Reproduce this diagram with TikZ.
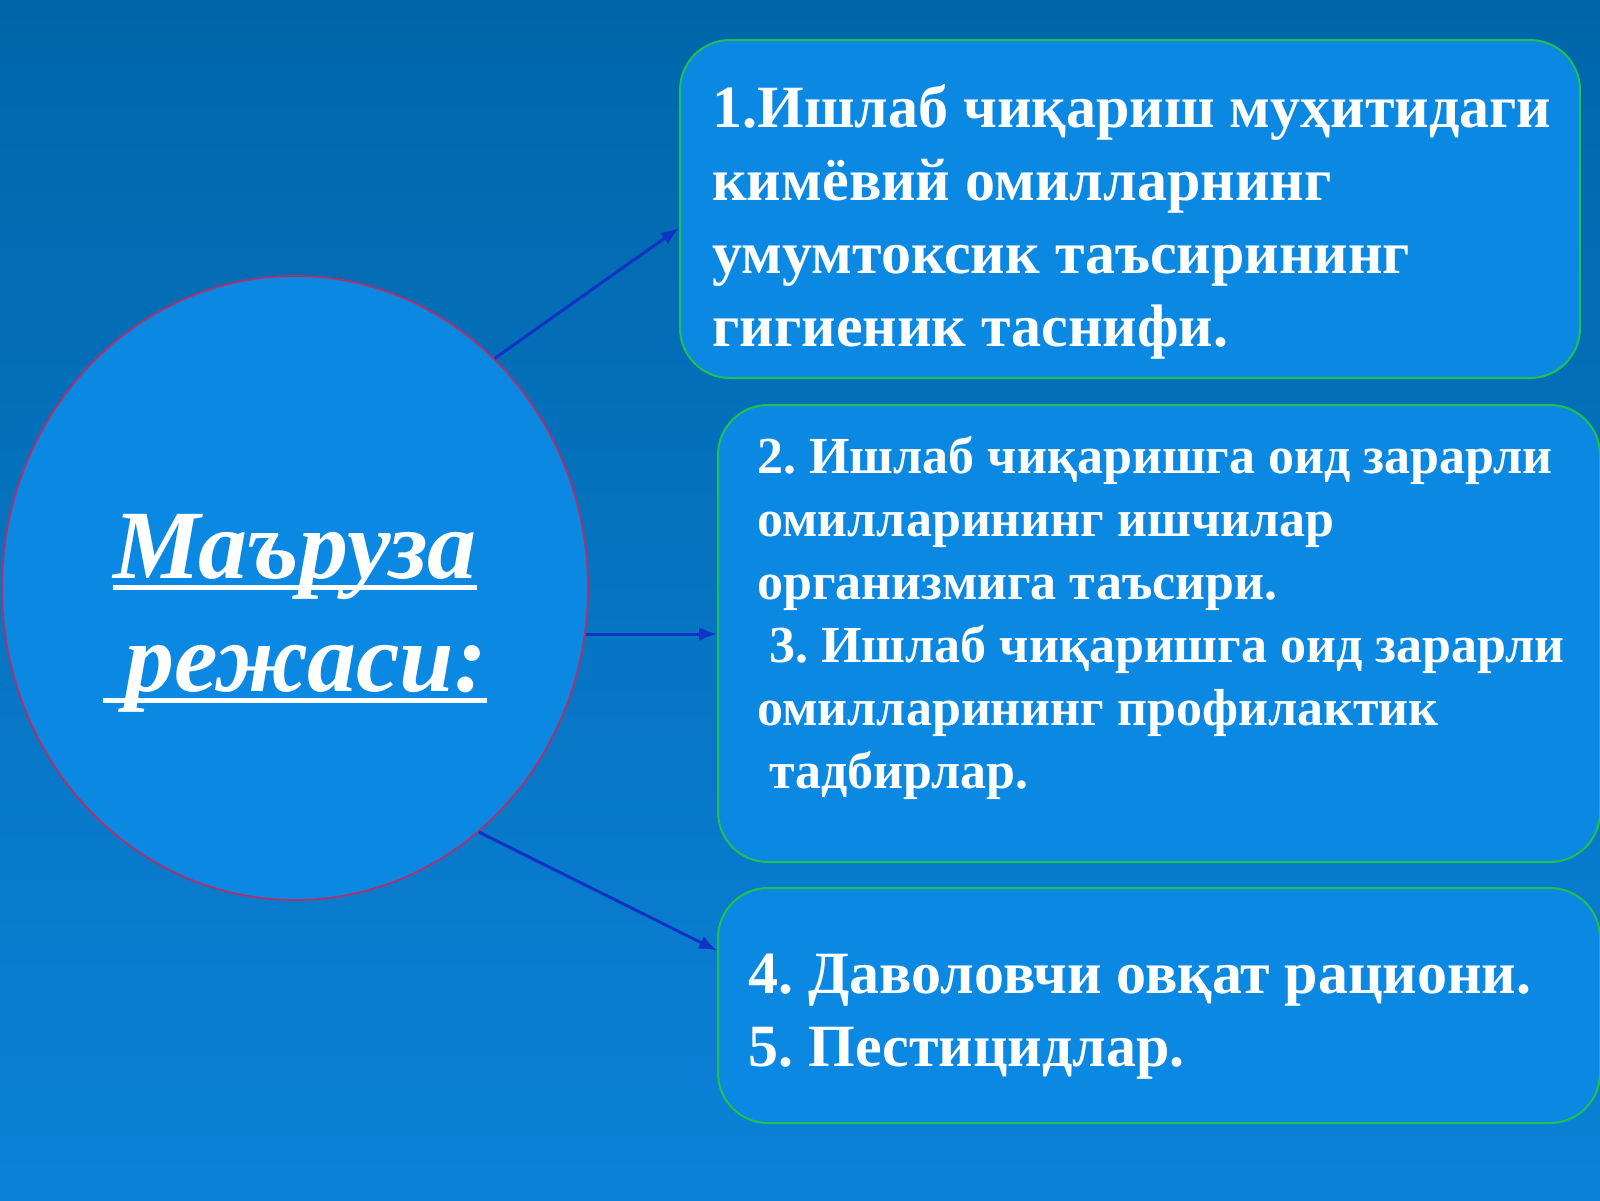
\documentclass[tikz,border=0pt]{standalone}
\usepackage{fontspec}
\setmainfont{Liberation Serif}
\usepackage{tikz}
\usetikzlibrary{arrows.meta,shapes.geometric,positioning,calc}
\definecolor{bgtop}{HTML}{0066AA}
\definecolor{bgbottom}{HTML}{0B82D8}
\definecolor{shapefill}{HTML}{0A88E2}
\definecolor{boxgreen}{HTML}{22C050}
\definecolor{circred}{HTML}{B0306A}
\definecolor{arrowblue}{HTML}{1232C4}
\frenchspacing
\newcommand\titleline[1]{\setbox0=\hbox{#1}\rlap{\rule[-6pt]{\wd0}{2.5pt}}\box0}
\tikzset{
    plan/.style={ellipse, draw=circred, line width=0.9pt, fill=shapefill, inner sep=0pt},
    topicbox/.style={rectangle, rounded corners=25pt, draw=boxgreen, line width=1pt, fill=shapefill, inner sep=0pt},
    topictext/.style={anchor=north west, inner sep=0pt, align=left, text=white, font=\bfseries},
    arrowline/.style={-{Latex[length=9pt, width=7pt]}, line width=1.5pt, draw=arrowblue}
}
\begin{document}
\begin{tikzpicture}[x=0.5pt, y=-0.5pt]
                    \useasboundingbox (0,0) rectangle (1600,1200);
                    \shade[top color=bgtop, bottom color=bgbottom] (0,0) rectangle (1600,1200);
                    \node[plan, minimum width=293pt, minimum height=312pt] (circ) at (295,588) {};
                    \node[align=center, text=white, inner sep=0pt, font=\bfseries\itshape\fontsize{49}{56.5}\selectfont] (title) at (295,613)
                        {\titleline{Маъруза}\\\titleline{\hspace{11pt}режаси:}};
                    \node[topicbox, minimum width=450pt, minimum height=169pt] (box1) at (1130,209) {};
                    \node[topicbox, minimum width=441pt, minimum height=228.5pt] (box2) at (1159,633.5) {};
                    \node[topicbox, minimum width=441pt, minimum height=117.5pt] (box3) at (1159,1005.5) {};
                    \node[topictext, font=\bfseries\fontsize{30}{36.5}\selectfont] (txt1) at (712,84)
                        {1.Ишлаб чиқариш муҳитидаги\\кимёвий омилларнинг\\умумтоксик таъсирининг\\гигиеник таснифи.};
                    \node[topictext, font=\bfseries\fontsize{26}{31.5}\selectfont] (txt2) at (757,436)
                        {2. Ишлаб чиқаришга оид зарарли\\омилларининг ишчилар\\организмига таъсири.\\\hspace{6pt}3. Ишлаб чиқаришга оид зарарли\\омилларининг профилактик\\\hspace{6pt}тадбирлар.};
                    \node[topictext, font=\bfseries\fontsize{30}{36.5}\selectfont] (txt3) at (748,954)
                        {4. Даволовчи овқат рациони.\\5. Пестицидлар.};

                    \draw[arrowline] (circ.49) -- ([yshift=-9.5pt]box1.west);
                    \draw[arrowline] (circ.-9) -- (circ.-9 -| box2.west);
                    \draw[arrowline] (circ.-53) -- ([yshift=27.5pt]box3.west);
                \end{tikzpicture}
\end{document}
